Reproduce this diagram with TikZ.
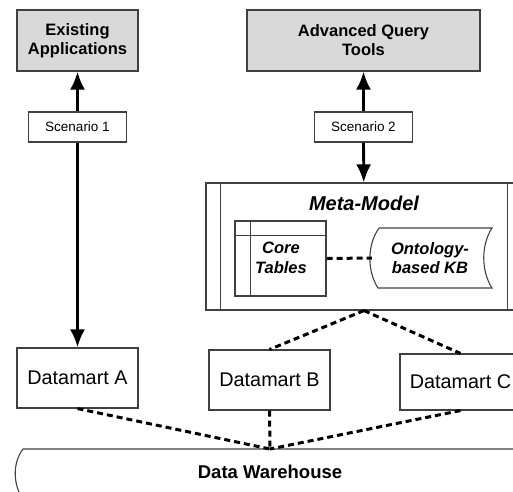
\documentclass[tikz,border=0pt]{standalone}
\usepackage{fontspec}
\setmainfont{Liberation Sans}
\usetikzlibrary{arrows.meta}
\tikzset{>={Latex[length=18pt,width=15pt]}}
\tikzset{
  box/.style={draw=black!75, line width=1.1pt, inner sep=0pt},
  topbox/.style={box, fill=black!15, minimum width=121, minimum height=61,
    align=center, font=\fontsize{16.5}{19}\selectfont\bfseries},
  scnbox/.style={box, fill=white, minimum width=98, minimum height=30,
    font=\fontsize{13.5}{16}\selectfont},
  dmbox/.style={box, fill=white, minimum width=121, minimum height=60,
    font=\fontsize{19.8}{23}\selectfont},
  flow/.style={->, line width=2.8pt},
  link/.style={line width=3pt, dash pattern=on 6pt off 4pt}
}
\begin{document}
\begin{tikzpicture}[x=1pt, y=-1pt]
\useasboundingbox (0,0) rectangle (513,491);
\clip (0,0) rectangle (513,491);
% top row
\node[topbox] (apps) at (77.5,40.5) {Existing\\Applications};
\node[topbox, minimum width=233] (tools) at (363.5,40.5) {Advanced Query\\Tools};
\node[scnbox] (scn1) at (77.5,127) {Scenario 1};
\node[scnbox] (scn2) at (363.5,127) {Scenario 2};
% meta-model
\node[box, minimum width=316, minimum height=127] (meta) at (364,246.5) {};
\draw[box] ([xshift=15pt]meta.north west) -- ([xshift=15pt]meta.south west);
\draw[box] ([xshift=-15pt]meta.north east) -- ([xshift=-15pt]meta.south east);
\node[font=\fontsize{20}{24}\selectfont\bfseries\itshape] (metatitle) at (364,203) {Meta-Model};
\node[box, minimum width=91, minimum height=75] (core) at (280.5,258.5) {};
\draw[box] ([yshift=-15pt]core.north west) -- ([yshift=-15pt]core.north east);
\draw[box] ([xshift=16pt]core.north west) -- ([xshift=16pt]core.south west);
\node[align=center, font=\fontsize{16.5}{19.5}\selectfont\bfseries\itshape] (coretxt) at (281,258) {Core\\Tables};
\draw[box] (379,228) -- (492,228) .. controls (481,245) and (481,271) .. (492,288)
  -- (378,288) .. controls (367,271) and (367,245) .. (379,228);
\node[inner sep=0pt, minimum width=116, align=center,
  font=\fontsize{16.5}{19.5}\selectfont\bfseries\itshape] (onto) at (430,258) {Ontology-\\based KB};
\draw[link] (core.east) -- (onto.west);
% datamarts
\node[dmbox] (dmA) at (77.5,378) {Datamart A};
\node[dmbox] (dmB) at (269.5,380) {Datamart B};
\node[dmbox, minimum height=56] (dmC) at (460.5,382) {Datamart C};
% warehouse
\draw[box] (530,449) -- (23,449) .. controls (13,462) and (13,482) .. (21,496);
\node[font=\fontsize{18.5}{22}\selectfont\bfseries] (dw) at (270,472) {Data Warehouse};
\coordinate (dwtop) at (270,449);
% connectors
\draw[flow] (scn1) -- (apps);
\draw[flow] (scn1) -- (dmA);
\draw[flow] (scn2) -- (tools);
\draw[flow] (scn2) -- (meta);
\draw[link] (meta.south) -- (dmB.north);
\draw[link] (meta.south) -- (dmC.north);
\foreach \d in {dmA,dmB,dmC}
\draw[link] (\d.south) -- (dwtop);
\end{tikzpicture}
\end{document}
